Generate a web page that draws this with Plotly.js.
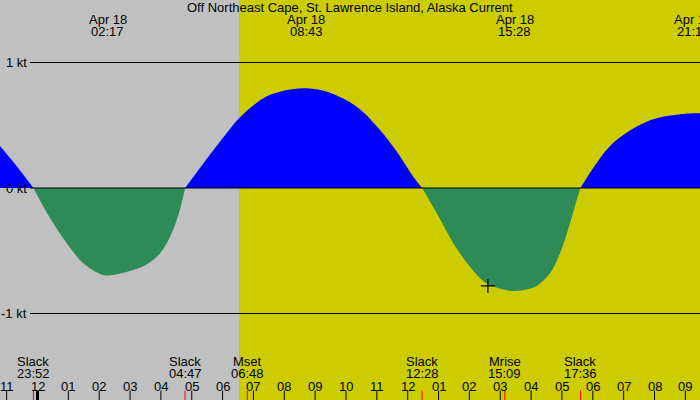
<!DOCTYPE html>
<html>
<head>
<meta charset="utf-8">
<script src="https://cdn.plot.ly/plotly-3.0.1.min.js"></script>
<style>html,body{margin:0;padding:0;background:#c0c0c0;}#chart{width:700px;height:400px;}</style>
</head>
<body>
<div id="chart"></div>
<script>
// Time in hours from Apr 18 00:00 (negative = Apr 17)
const curveT = [-1.216, -0.66, -0.133, 0.405, 0.947, 1.485, 2.026, 2.283, 3.105, 3.54, 3.971, 4.295, 4.512, 4.674, 4.783,
  5.267, 5.699, 6.24, 6.509, 7.319, 7.86, 8.717, 9.457, 10.347, 11.102, 11.643, 12.18, 12.467,
  12.94, 13.478, 14.019, 14.56, 15.316, 15.467, 15.747, 16.181, 16.612, 16.937, 17.261, 17.478, 17.6,
  18.126, 18.664, 19.423, 20.071, 20.827, 21.25, 21.475];
const curveV = [0.335, 0.17, 0, -0.24, -0.44, -0.60, -0.685, -0.697, -0.653, -0.61, -0.52, -0.39, -0.255, -0.12, 0,
  0.16, 0.30, 0.47, 0.55, 0.715, 0.767, 0.794, 0.76, 0.648, 0.462, 0.29, 0.09, 0,
  -0.20, -0.44, -0.627, -0.76, -0.818, -0.82, -0.813, -0.78, -0.68, -0.52, -0.28, -0.096, 0,
  0.20, 0.36, 0.49, 0.555, 0.587, 0.596, 0.595];

const peakTimes = [2.283, 8.717, 15.467, 21.25];
const peakDates = ["Apr 18", "Apr 18", "Apr 18", "Apr 18"];
const peakLabels = ["02:17", "08:43", "15:28", "21:15"];

const eventTimes = [-0.133, 4.783, 6.8, 12.467, 15.15, 17.6];
const eventNames = ["Slack", "Slack", "Mset", "Slack", "Mrise", "Slack"];
const eventLabels = ["23:52", "04:47", "06:48", "12:28", "15:09", "17:36"];

const hourTicks = [-1,0,1,2,3,4,5,6,7,8,9,10,11,12,13,14,15,16,17,18,19,20,21];
const hourLabels = ["11","12","01","02","03","04","05","06","07","08","09","10","11","12","01","02","03","04","05","06","07","08","09"];

const sunrise = 6.53;
const nowT = 14.60, nowV = -0.78;
const levelVals = [1, 0, -1];
const levelLabels = ["1 kt", "0 kt", "-1 kt"];

const title = "Off Northeast Cape, St. Lawrence Island, Alaska Current";

// pixel mapping helpers (layout only)
const W = 700, H = 400;
const xMin = -1.2156, xMax = 21.475;
const yMin = -1.6892, yMax = 1.498;
const py = p => 1 - p / H;

// split curve into signed segments
const traces = [];
let segT = [curveT[0]], segV = [curveV[0]];
function pushSeg() {
  if (segT.length < 2) return;
  const s = segV.reduce((a, b) => a + b, 0);
  traces.push({
    x: segT.slice(), y: segV.slice(), type: 'scatter', mode: 'lines',
    line: {width: 0, shape: 'spline', smoothing: 1},
    fill: 'tozeroy', fillcolor: s >= 0 ? '#0000ff' : '#2e8b57',
    hoverinfo: 'skip', showlegend: false
  });
}
for (let i = 1; i < curveT.length; i++) {
  segT.push(curveT[i]); segV.push(curveV[i]);
  if (curveV[i] === 0) { pushSeg(); segT = [curveT[i]]; segV = [curveV[i]]; }
}
pushSeg();

traces.push({
  x: [nowT], y: [nowV], type: 'scatter', mode: 'markers',
  marker: {symbol: 'cross-thin', size: 10, line: {color: '#000', width: 1.2}},
  hoverinfo: 'skip', showlegend: false
});

const font = {family: 'Liberation Sans, Arial, sans-serif', size: 13, color: '#000'};
const shapes = [];
const annotations = [];

// daylight band
shapes.push({type: 'rect', xref: 'x', yref: 'paper', x0: sunrise, x1: xMax + 1, y0: 0, y1: 1,
  fillcolor: '#cccc00', line: {width: 0}, layer: 'below'});

// level lines & labels
levelVals.forEach((v, i) => {
  shapes.push({type: 'line', xref: 'paper', yref: 'y', x0: 30 / W, x1: 1, y0: v, y1: v,
    line: {color: '#000', width: 1}, layer: 'above'});
  annotations.push({xref: 'paper', yref: 'y', x: 29 / W, y: v, text: levelLabels[i],
    showarrow: false, xanchor: 'right', yanchor: 'middle', font: font});
});

// hour ticks
hourTicks.forEach((h, i) => {
  shapes.push({type: 'line', xref: 'x', yref: 'paper', x0: h, x1: h, y0: py(400), y1: py(390.5),
    line: {color: '#000', width: h === 0 ? 3 : 1}, layer: 'above'});
  annotations.push({xref: 'x', yref: 'paper', x: h, y: py(386), text: hourLabels[i],
    showarrow: false, xanchor: 'center', yanchor: 'middle', font: font});
});

// events
eventTimes.forEach((t, i) => {
  shapes.push({type: 'line', xref: 'x', yref: 'paper', x0: t, x1: t, y0: py(400), y1: py(390.5),
    line: {color: '#ff0000', width: 1}, layer: 'above'});
  annotations.push({xref: 'x', yref: 'paper', x: t, y: py(361.5), text: eventNames[i],
    showarrow: false, xanchor: 'center', yanchor: 'middle', font: font});
  annotations.push({xref: 'x', yref: 'paper', x: t, y: py(373.5), text: eventLabels[i],
    showarrow: false, xanchor: 'center', yanchor: 'middle', font: font});
});

// peaks
peakTimes.forEach((t, i) => {
  annotations.push({xref: 'x', yref: 'paper', x: t, y: py(19.5), text: peakDates[i],
    showarrow: false, xanchor: 'center', yanchor: 'middle', font: font});
  annotations.push({xref: 'x', yref: 'paper', x: t, y: py(31.5), text: peakLabels[i],
    showarrow: false, xanchor: 'center', yanchor: 'middle', font: font});
});

// title
annotations.push({xref: 'paper', yref: 'paper', x: 0.5, y: py(7.5), text: title,
  showarrow: false, xanchor: 'center', yanchor: 'middle', font: font});

const layout = {
  width: W, height: H,
  margin: {l: 0, r: 0, t: 0, b: 0, pad: 0},
  paper_bgcolor: '#c0c0c0', plot_bgcolor: '#c0c0c0',
  xaxis: {range: [xMin, xMax], visible: false, fixedrange: true},
  yaxis: {range: [yMin, yMax], visible: false, fixedrange: true},
  shapes: shapes, annotations: annotations, showlegend: false
};

Plotly.newPlot('chart', traces, layout, {staticPlot: true, displayModeBar: false});
</script>
</body>
</html>
